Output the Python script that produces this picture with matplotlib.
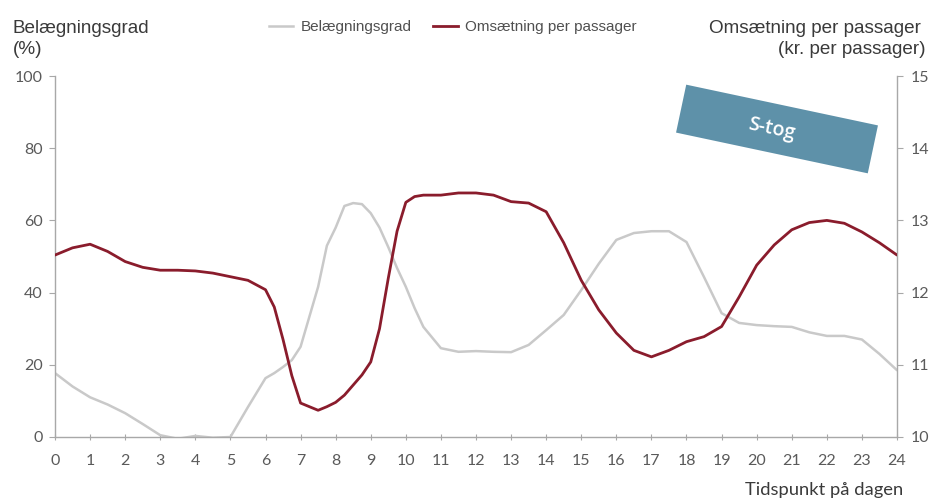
import matplotlib
matplotlib.use("Agg")
import matplotlib.pyplot as plt
from matplotlib.patches import Rectangle
from matplotlib.transforms import Affine2D
from matplotlib.lines import Line2D

# Hours of the day (readings every half hour, quarter hours around steep parts)
hours = [0, 0.5, 1, 1.5, 2, 2.5, 3, 3.5, 4, 4.5, 5, 5.5, 6, 6.25, 6.5, 6.75, 7,
         7.5, 7.75, 8, 8.25, 8.5, 8.75, 9, 9.25, 9.5, 9.75, 10, 10.25, 10.5, 11,
         11.5, 12, 12.5, 13, 13.5, 14, 14.5, 15, 15.5, 16, 16.5, 17, 17.5, 18,
         18.5, 19, 19.5, 20, 20.5, 21, 21.5, 22, 22.5, 23, 23.5, 24]

# Belægningsgrad (%) - left axis
occupancy = [17.7, 14, 11, 9, 6.6, 3.6, 0.5, -0.5, 0.3, -0.2, 0, 8.3, 16.3, 17.7,
             19.4, 21.3, 25, 41.6, 53, 58, 64, 64.8, 64.5, 62, 58, 52.6, 46.8,
             41.6, 35.7, 30.5, 24.6, 23.6, 23.8, 23.6, 23.5, 25.5, 29.6, 33.8,
             40.7, 48, 54.6, 56.5, 57, 57, 54, 44.3, 34.3, 31.6, 31, 30.7, 30.5,
             29, 28, 28, 27, 23, 18.5]

# Omsætning per passager (kr. per passager) - right axis
revenue = [12.52, 12.62, 12.67, 12.57, 12.43, 12.35, 12.31, 12.31, 12.30, 12.27,
           12.22, 12.17, 12.04, 11.8, 11.35, 10.85, 10.47, 10.37, 10.42, 10.48,
           10.58, 10.72, 10.86, 11.04, 11.5, 12.2, 12.85, 13.25, 13.33, 13.35,
           13.35, 13.38, 13.38, 13.35, 13.26, 13.24, 13.12, 12.69, 12.17, 11.76,
           11.44, 11.2, 11.11, 11.2, 11.32, 11.39, 11.53, 11.94, 12.38, 12.66,
           12.87, 12.97, 13.0, 12.96, 12.84, 12.69, 12.52]

x_ticks = list(range(0, 25))
left_ticks = [0, 20, 40, 60, 80, 100]
right_ticks = [10, 11, 12, 13, 14, 15]

GREY = "#c9c9c9"
RED = "#8a1c2c"
AXC = "#a8a8a8"
TXT = "#5a5a5a"
TITLE = "#3a3a3a"
BOX = "#5e91a9"

W, H = 934, 500
fig = plt.figure(figsize=(W / 100, H / 100), dpi=100)
ax = fig.add_axes([55 / W, (H - 437) / H, (897 - 55) / W, (437 - 76) / H])
ax2 = ax.twinx()

ax.plot(hours, occupancy, color=GREY, lw=1.8, solid_capstyle="round",
        solid_joinstyle="round", zorder=2)
ax2.plot(hours, revenue, color=RED, lw=2.0, solid_capstyle="round",
         solid_joinstyle="round", zorder=3)

ax.set_xlim(0, 24)
ax.set_ylim(0, 100)
ax2.set_ylim(10, 15)
ax.set_xticks(x_ticks)
ax.set_xticklabels([str(t) for t in x_ticks])
ax.set_yticks(left_ticks)
ax2.set_yticks(right_ticks)

for a in (ax, ax2):
    a.spines["top"].set_visible(False)
    for s in ("left", "right", "bottom"):
        a.spines[s].set_color(AXC)
        a.spines[s].set_linewidth(1.0)
    a.set_facecolor("none")
ax.spines["right"].set_visible(False)
ax2.spines["left"].set_visible(False)
ax2.spines["bottom"].set_visible(False)

ax.tick_params(axis="x", direction="inout", length=5, width=0.8, color=AXC,
               labelcolor=TXT, labelsize=11.5, pad=10)
ax.tick_params(axis="y", direction="out", length=4, width=0.8, color=AXC,
               labelcolor=TXT, labelsize=11.5, pad=5)
ax2.tick_params(axis="y", direction="out", length=4, width=0.8, color=AXC,
                labelcolor=TXT, labelsize=11.5, pad=6)
for lab in ax.get_xticklabels() + ax.get_yticklabels() + ax2.get_yticklabels():
    lab.set_family("Lato")

# Axis titles
tkw = dict(fontsize=13.6, color=TITLE, family="Liberation Sans", va="baseline")
fig.text(13 / W, 1 - 33 / H, "Belægningsgrad", ha="left", **tkw)
fig.text(13 / W, 1 - 54 / H, "(%)", ha="left", **tkw)
fig.text(921 / W, 1 - 33 / H, "Omsætning per passager", ha="right", **tkw)
fig.text(926 / W, 1 - 54 / H, "(kr. per passager)", ha="right", **tkw)
fig.text(903 / W, 1 - 490 / H, "Tidspunkt på dagen", ha="right", va="center",
         fontsize=13.2, color=TITLE, family="Lato")

# Legend
handles = [Line2D([], [], color=GREY, lw=1.8), Line2D([], [], color=RED, lw=2.0)]
leg = fig.legend(handles, ["Belægningsgrad", "Omsætning per passager"],
                 loc="center", bbox_to_anchor=(453 / W, 1 - 27 / H), ncol=2,
                 frameon=False, handlelength=1.6, handletextpad=0.5,
                 columnspacing=1.4, prop=dict(family="Liberation Sans", size=11))
for t in leg.get_texts():
    t.set_color("#505050")

# "S-tog" rotated label box (in inches, figure space)
cx, cy = 777 / 100, (H - 129) / 100
bw, bh = 1.96, 0.49
angle = -12
rect = Rectangle((cx - bw / 2, cy - bh / 2), bw, bh, facecolor=BOX, edgecolor="none",
                 transform=Affine2D().rotate_deg_around(cx, cy, angle) + fig.dpi_scale_trans,
                 zorder=5)
fig.patches.append(rect)
fig.text((cx * 100 - 6) / W, cy * 100 / H, "S-tog", ha="center", va="center",
         rotation=angle, rotation_mode="anchor", fontsize=14, fontweight="semibold",
         color="white", family="Open Sans", zorder=6)

fig.savefig("out.png", dpi=100)
